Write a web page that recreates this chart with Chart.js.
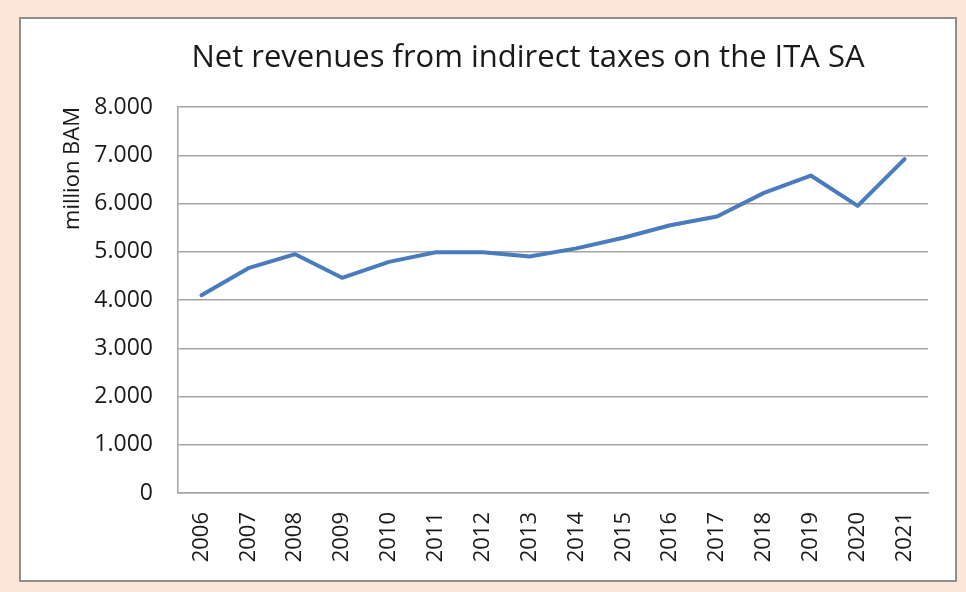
<!DOCTYPE html>
<html>
<head>
<meta charset="utf-8">
<script src="https://cdn.jsdelivr.net/npm/chart.js@4.4.1/dist/chart.umd.min.js"></script>
<style>
  html, body { margin: 0; padding: 0; }
  body { width: 966px; height: 592px; background: #fbe6d8; position: relative; overflow: hidden; }
  #panel {
    position: absolute; left: 19px; top: 17px; width: 934px; height: 561px;
    background: #ffffff; border: 2px solid #8f8f8f;
  }
  #wrap { position: absolute; left: 0; top: 0; width: 934px; height: 561px; }
</style>
</head>
<body>
<div id="panel"><div id="wrap"><canvas id="c" width="934" height="561"></canvas></div></div>
<script>
// Net revenues from indirect taxes (million BAM), yearly
const years = ['2006','2007','2008','2009','2010','2011','2012','2013','2014','2015','2016','2017','2018','2019','2020','2021'];
const revenues = [4100, 4660, 4950, 4460, 4790, 4990, 4990, 4900, 5070, 5290, 5550, 5730, 6220, 6580, 5950, 6920];
const yTickLabels = ['0','1.000','2.000','3.000','4.000','5.000','6.000','7.000','8.000'];

const FONT = "'Open Sans', 'Liberation Sans', sans-serif";
const GRID = '#a3a3a3';

// Shift the title so it sits a little left of the plot centre
const titleShift = {
  id: 'titleShift',
  afterLayout(chart) {
    const t = chart.titleBlock;
    if (t) {
      t.left = chart.chartArea.left - 50;
      t.right = chart.chartArea.right;
    }
  }
};

new Chart(document.getElementById('c'), {
  type: 'line',
  data: {
    labels: years,
    datasets: [{
      data: revenues,
      borderColor: '#4a7bbd',
      borderWidth: 4,
      borderJoinStyle: 'round',
      borderCapStyle: 'round',
      pointRadius: 0,
      tension: 0,
      fill: false
    }]
  },
  options: {
    responsive: false,
    animation: false,
    layout: { padding: { top: 21, right: 27, bottom: 0, left: 0 } },
    plugins: {
      legend: { display: false },
      tooltip: { enabled: false },
      title: {
        display: true,
        text: 'Net revenues from indirect taxes on the ITA SA',
        color: '#1a1a1a',
        font: { family: FONT, size: 31, weight: 'normal', lineHeight: 1.2 },
        padding: { top: 0, bottom: 29.8 }
      }
    },
    scales: {
      x: {
        offset: true,
        grid: { display: false, drawTicks: false },
        border: { display: true, color: GRID, width: 1.5 },
        ticks: {
          color: '#1a1a1a',
          font: { family: FONT, size: 22 },
          minRotation: 90, maxRotation: 90,
          padding: 19,
          autoSkip: false
        },
        afterFit(scale) { scale.height = 87; }
      },
      y: {
        min: 0, max: 8000,
        ticks: {
          stepSize: 1000,
          color: '#1a1a1a',
          font: { family: FONT, size: 23 },
          padding: 25,
          callback: (v, i) => yTickLabels[i]
        },
        grid: { color: GRID, lineWidth: 1.5, drawTicks: false },
        border: { display: true, color: GRID, width: 1.5 },
        title: {
          display: true,
          text: 'million BAM',
          align: 'end',
          color: '#1a1a1a',
          font: { family: FONT, size: 22, lineHeight: 1.2 },
          padding: { top: 39, bottom: 0 }
        },
        afterFit(scale) { scale.width = 157; }
      }
    }
  },
  plugins: [titleShift]
});
</script>
</body>
</html>
